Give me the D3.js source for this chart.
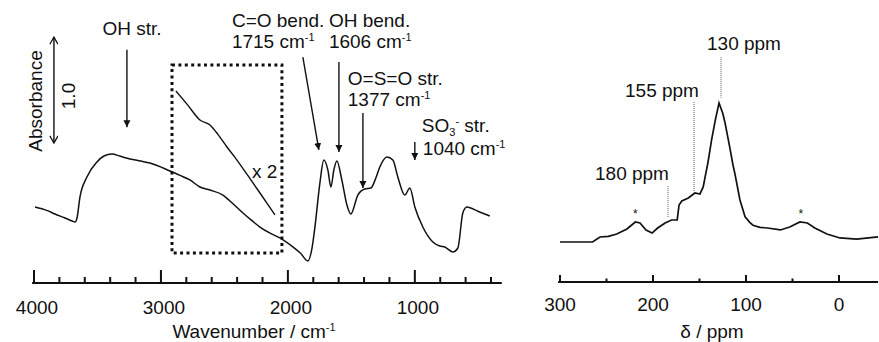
<!DOCTYPE html>
<html>
<head>
<meta charset="utf-8">
<script src="https://cdn.jsdelivr.net/npm/d3@7"></script>
<style>
  html, body { margin: 0; padding: 0; background: #fff; }
  svg { display: block; font-family: "Liberation Sans", Arial, sans-serif; }
  text { fill: #111; }
</style>
</head>
<body>
<div id="chart"></div>
<script>
const W = 879, H = 342;
const INK = "#111";
const FS = 19;

// IR spectrum (wavenumber / cm-1, absorbance)
const irWave = [3992, 3900, 3835, 3760, 3700, 3677, 3660, 3638, 3583, 3504, 3449, 3386, 3320, 3244, 3160, 3087,
  2929, 2850, 2772, 2693, 2614, 2512, 2430, 2354, 2290, 2220, 2140, 2063, 1961, 1900, 1843, 1810, 1787, 1748,
  1717, 1685, 1661, 1638, 1614, 1575, 1535, 1504, 1449, 1394, 1346, 1307, 1276, 1220, 1173, 1134, 1079, 1039,
  1000, 937, 858, 803, 764, 701, 661, 622, 591, 500, 409];
const irAbs = [0.717, 0.685, 0.651, 0.615, 0.585, 0.575, 0.62, 0.811, 1.0, 1.142, 1.198, 1.217, 1.195, 1.170, 1.150, 1.132,
  1.057, 1.015, 0.972, 0.906, 0.877, 0.830, 0.745, 0.660, 0.595, 0.528, 0.470, 0.425, 0.340, 0.280, 0.208, 0.330, 0.528, 0.943,
  1.160, 1.066, 0.906, 1.066, 1.151, 0.972, 0.736, 0.651, 0.830, 0.887, 0.896, 0.991, 1.094, 1.189, 1.160, 1.0, 0.830, 0.896,
  0.717, 0.528, 0.387, 0.349, 0.340, 0.292, 0.330, 0.660, 0.717, 0.675, 0.632];

// x2 expansion inside the dotted box
const zoomWave = [2882, 2790, 2693, 2614, 2550, 2480, 2420, 2362, 2290, 2220, 2160, 2102];
const zoomAbs = [1.811, 1.680, 1.538, 1.491, 1.400, 1.283, 1.190, 1.094, 0.970, 0.849, 0.745, 0.642];

// 13C NMR spectrum (ppm, intensity)
const nmrPpm = [300, 280, 265, 257, 248, 239, 228, 219, 214, 207.5, 201, 195, 187, 180, 174, 172, 169, 162, 155, 149.5,
  146, 144, 141, 137, 133, 129, 125, 122.5, 119, 117, 114, 112, 106.5, 101, 96, 92.5, 85, 77, 63, 53, 42, 34, 26, 13,
  -1, -19, -42];
const nmrInt = [0, 0, 0, 0.036, 0.04, 0.057, 0.093, 0.143, 0.136, 0.086, 0.064, 0.1, 0.136, 0.157, 0.157, 0.264, 0.293,
  0.314, 0.35, 0.343, 0.393, 0.464, 0.564, 0.729, 0.871, 0.993, 0.92, 0.85, 0.73, 0.66, 0.55, 0.49, 0.30, 0.18, 0.14,
  0.12, 0.105, 0.10, 0.086, 0.107, 0.143, 0.136, 0.10, 0.057, 0.029, 0.021, 0.036];

const irMajor = [4000, 3000, 2000, 1000];
const irMinor = [3800, 3600, 3400, 3200, 2800, 2600, 2400, 2200, 1800, 1600, 1400, 1200, 800, 600, 400];
const nmrMajor = [300, 200, 100, 0];
const nmrMinor = [250, 150, 50];

// band assignments: label lines, label anchor (wave, abs), arrow from/to
const irBands = [
  { lines: ["OH str."], at: [3228, 2.34], anchor: "middle", from: [3268, 2.2], to: [3268, 1.47] },
  { lines: ["C=O bend.", "1715 cm"], sup: [false, true], at: [2441, 2.415], from: [1882, 2.13], to: [1756, 1.255] },
  { lines: ["OH bend.", "1606 cm"], sup: [false, true], at: [1677, 2.415], from: [1598, 2.085], to: [1598, 1.236] },
  { lines: ["O=S=O str.", "1377 cm"], sup: [false, true], at: [1528, 1.868], from: [1409, 1.604], to: [1409, 0.896] }
];
const nmrMarks = [
  { label: "130 ppm", textX: 707, textY: 50, ppm: 126.9, top: 1.32, bottom: 1.03 },
  { label: "155 ppm", textX: 625, textY: 97, ppm: 155.9, top: 1.0, bottom: 0.357 },
  { label: "180 ppm", textX: 595, textY: 180, ppm: 183.9, top: 0.4, bottom: 0.171 }
];
const sidebandPpm = [219, 41];

const svg = d3.select("#chart").append("svg").attr("width", W).attr("height", H);

const defs = svg.append("defs");
defs.append("marker").attr("id", "head").attr("viewBox", "0 0 10 10")
  .attr("refX", 10).attr("refY", 5).attr("markerWidth", 7).attr("markerHeight", 10)
  .attr("markerUnits", "userSpaceOnUse").attr("orient", "auto")
  .append("path").attr("d", "M0,0 L10,5 L0,10 Z").attr("fill", INK);
defs.append("marker").attr("id", "open").attr("viewBox", "0 0 10 10")
  .attr("refX", 9).attr("refY", 5).attr("markerWidth", 9).attr("markerHeight", 9)
  .attr("markerUnits", "userSpaceOnUse").attr("orient", "auto-start-reverse")
  .append("path").attr("d", "M1,0.5 L9,5 L1,9.5").attr("fill", "none").attr("stroke", INK).attr("stroke-width", 1.4);

// ---------- left: IR ----------
const xL = d3.scaleLinear().domain([4000, 400]).range([34, 491]);
const yL = d3.scaleLinear().domain([0, 1]).range([283, 177]);
const gL = svg.append("g");

gL.append("line").attr("x1", xL(4015)).attr("x2", xL(315)).attr("y1", 283).attr("y2", 283)
  .attr("stroke", INK).attr("stroke-width", 2);
gL.selectAll("line.maj").data(irMajor).join("line").attr("class", "maj")
  .attr("x1", d => xL(d)).attr("x2", d => xL(d)).attr("y1", 283).attr("y2", 270)
  .attr("stroke", INK).attr("stroke-width", 2);
gL.selectAll("line.min").data(irMinor).join("line").attr("class", "min")
  .attr("x1", d => xL(d)).attr("x2", d => xL(d)).attr("y1", 283).attr("y2", 277)
  .attr("stroke", INK).attr("stroke-width", 2);
gL.selectAll("text.tick").data(irMajor).join("text").attr("class", "tick")
  .attr("x", d => xL(d) + 3).attr("y", 314).attr("text-anchor", "middle")
  .attr("font-size", FS).text(d => d);

const xlab = gL.append("text").attr("x", 254).attr("y", 338).attr("text-anchor", "middle").attr("font-size", FS);
xlab.append("tspan").text("Wavenumber / cm");
xlab.append("tspan").attr("font-size", 11).attr("dy", -7).text("-1");

const line = d3.line().curve(d3.curveMonotoneX);
gL.append("path")
  .attr("d", line(irWave.map((w, i) => [xL(w), yL(irAbs[i])])))
  .attr("fill", "none").attr("stroke", INK).attr("stroke-width", 1.5);
gL.append("path")
  .attr("d", line(zoomWave.map((w, i) => [xL(w), yL(zoomAbs[i])])))
  .attr("fill", "none").attr("stroke", INK).attr("stroke-width", 1.4);

// dotted box
gL.append("rect")
  .attr("x", xL(2913)).attr("y", yL(2.057))
  .attr("width", xL(2047) - xL(2913)).attr("height", yL(0.283) - yL(2.057))
  .attr("fill", "none").attr("stroke", INK).attr("stroke-width", 3).attr("stroke-dasharray", "3,3.4");
gL.append("text").attr("x", 252).attr("y", 178).attr("font-size", FS).text("x 2");

// absorbance scale bar
gL.append("line").attr("x1", xL(3843)).attr("x2", xL(3843)).attr("y1", yL(1.32)).attr("y2", yL(2.32))
  .attr("stroke", INK).attr("stroke-width", 1.4)
  .attr("marker-start", "url(#open)").attr("marker-end", "url(#open)");
gL.append("text").attr("transform", "translate(42,101) rotate(-90)").attr("text-anchor", "middle")
  .attr("font-size", FS).text("Absorbance");
gL.append("text").attr("transform", "translate(75,96) rotate(-90)").attr("text-anchor", "middle")
  .attr("font-size", FS).text("1.0");

// band arrows and labels
irBands.forEach(b => {
  gL.append("line")
    .attr("x1", xL(b.from[0])).attr("y1", yL(b.from[1]))
    .attr("x2", xL(b.to[0])).attr("y2", yL(b.to[1]))
    .attr("stroke", INK).attr("stroke-width", 1.4).attr("marker-end", "url(#head)");
  b.lines.forEach((t, i) => {
    const tx = gL.append("text").attr("x", xL(b.at[0])).attr("y", yL(b.at[1]) + i * 21)
      .attr("font-size", FS).attr("text-anchor", b.anchor || "start");
    tx.append("tspan").text(t);
    if (b.sup && b.sup[i]) tx.append("tspan").attr("font-size", 11).attr("dy", -7).text("-1");
  });
});

// SO3- band
gL.append("line").attr("x1", xL(1000)).attr("x2", xL(1000)).attr("y1", yL(1.33)).attr("y2", yL(1.16))
  .attr("stroke", INK).attr("stroke-width", 1.4).attr("marker-end", "url(#head)");
const so = gL.append("text").attr("x", xL(945)).attr("y", yL(1.425)).attr("font-size", FS);
so.append("tspan").text("SO");
so.append("tspan").attr("font-size", 11).attr("dy", 4).text("3");
so.append("tspan").attr("font-size", 11).attr("dy", -11).text("-");
so.append("tspan").attr("dy", 7).text(" str.");
const so2 = gL.append("text").attr("x", xL(937)).attr("y", yL(1.208)).attr("font-size", FS);
so2.append("tspan").text("1040 cm");
so2.append("tspan").attr("font-size", 11).attr("dy", -7).text("-1");

// ---------- right: NMR ----------
const xR = d3.scaleLinear().domain([300, 0]).range([560, 839]);
const yR = d3.scaleLinear().domain([0, 1]).range([242, 102]);
const gR = svg.append("g");

gR.append("line").attr("x1", xR(302)).attr("x2", xR(-42)).attr("y1", 282).attr("y2", 282)
  .attr("stroke", INK).attr("stroke-width", 2);
gR.selectAll("line.maj").data(nmrMajor).join("line").attr("class", "maj")
  .attr("x1", d => xR(d)).attr("x2", d => xR(d)).attr("y1", 282).attr("y2", 275)
  .attr("stroke", INK).attr("stroke-width", 2);
gR.selectAll("line.min").data(nmrMinor).join("line").attr("class", "min")
  .attr("x1", d => xR(d)).attr("x2", d => xR(d)).attr("y1", 282).attr("y2", 278.5)
  .attr("stroke", INK).attr("stroke-width", 2);
gR.selectAll("text.tick").data(nmrMajor).join("text").attr("class", "tick")
  .attr("x", d => xR(d)).attr("y", 311).attr("text-anchor", "middle")
  .attr("font-size", FS).text(d => d);
gR.append("text").attr("x", 712).attr("y", 338).attr("text-anchor", "middle").attr("font-size", FS)
  .text("δ / ppm");

gR.append("path")
  .attr("d", d3.line()(nmrPpm.map((p, i) => [xR(p), yR(nmrInt[i])])))
  .attr("fill", "none").attr("stroke", INK).attr("stroke-width", 1.7);

nmrMarks.forEach(m => {
  gR.append("line").attr("x1", xR(m.ppm)).attr("x2", xR(m.ppm))
    .attr("y1", yR(m.top)).attr("y2", yR(m.bottom))
    .attr("stroke", "#333").attr("stroke-width", 0.8).attr("stroke-dasharray", "1,1");
  gR.append("text").attr("x", m.textX).attr("y", m.textY).attr("font-size", FS).text(m.label);
});
gR.selectAll("text.sb").data(sidebandPpm).join("text").attr("class", "sb")
  .attr("x", d => xR(d)).attr("y", 218).attr("text-anchor", "middle")
  .attr("font-size", 12).text("*");
</script>
</body>
</html>
